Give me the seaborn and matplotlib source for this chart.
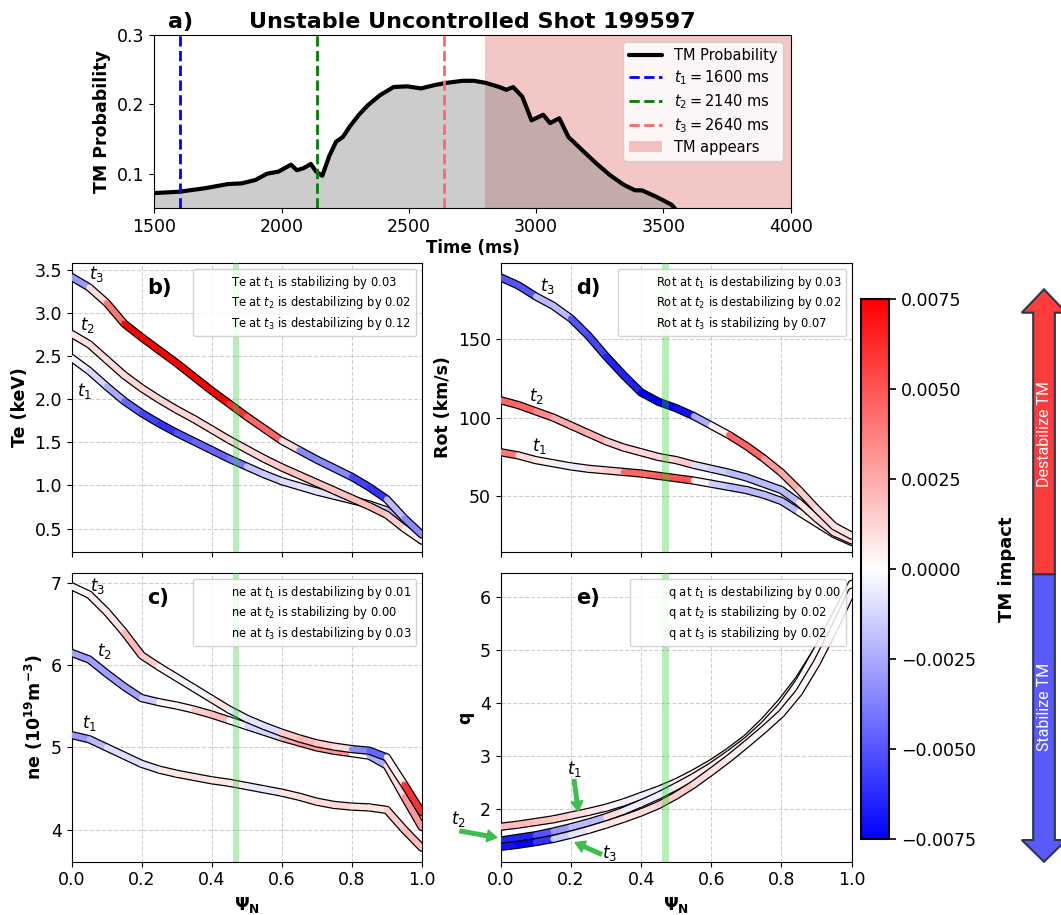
import numpy as np
import matplotlib
matplotlib.use('Agg')
import matplotlib.pyplot as plt
import seaborn as sns
from matplotlib.collections import LineCollection
from matplotlib.lines import Line2D
from matplotlib.patches import Patch, Polygon
from matplotlib.colors import Normalize
from matplotlib.cm import ScalarMappable

sns.set_style('ticks')
plt.rcParams['font.family'] = ['DejaVu Sans']
plt.rcParams['mathtext.fontset'] = 'dejavusans'
for key in ['text.color', 'axes.labelcolor', 'xtick.color', 'ytick.color', 'axes.edgecolor']:
    plt.rcParams[key] = 'black'

# ---- panel a: TM probability vs time
time_ms = [1500, 1599, 1699, 1789, 1843, 1898, 1943, 1988, 2037, 2060, 2087, 2115, 2136,
           2160, 2187, 2214, 2241, 2268, 2304, 2340, 2386, 2440, 2494, 2548, 2603, 2648,
           2711, 2756, 2802, 2856, 2883, 2910, 2946, 2982, 3028, 3055, 3091, 3127, 3181,
           3236, 3290, 3344, 3389, 3416, 3470, 3497, 3533, 3561]
tm_prob = [0.072, 0.074, 0.079, 0.085, 0.086, 0.091, 0.100, 0.103, 0.113, 0.105, 0.108, 0.114, 0.103,
           0.097, 0.125, 0.146, 0.153, 0.168, 0.185, 0.199, 0.213, 0.225, 0.226, 0.223, 0.228, 0.231,
           0.234, 0.234, 0.231, 0.225, 0.221, 0.225, 0.211, 0.177, 0.185, 0.173, 0.180, 0.153, 0.134,
           0.115, 0.098, 0.084, 0.076, 0.076, 0.067, 0.062, 0.055, 0.043]
t_marks = [1600, 2140, 2640]
t_names = ['$t_1 = 1600$ ms', '$t_2 = 2140$ ms', '$t_3 = 2640$ ms']
tm_onset = 2800

# ---- profiles on psi_N grid
psi = [0.0, 0.05, 0.1, 0.15, 0.2, 0.25, 0.3, 0.35, 0.4, 0.45, 0.5,
       0.55, 0.6, 0.65, 0.7, 0.75, 0.8, 0.85, 0.9, 0.95, 1.0]

te_t1 = [2.48, 2.33, 2.15, 1.98, 1.84, 1.72, 1.61, 1.51, 1.41, 1.31, 1.22, 1.13, 1.05, 0.99, 0.93, 0.88, 0.83, 0.78, 0.71, 0.56, 0.36]
te_t2 = [2.76, 2.64, 2.46, 2.28, 2.13, 2.00, 1.88, 1.77, 1.65, 1.53, 1.42, 1.31, 1.21, 1.12, 1.03, 0.94, 0.85, 0.76, 0.66, 0.50, 0.36]
te_t3 = [3.42, 3.30, 3.12, 2.88, 2.72, 2.57, 2.42, 2.26, 2.10, 1.95, 1.80, 1.66, 1.52, 1.41, 1.30, 1.20, 1.10, 0.98, 0.84, 0.62, 0.43]

ne_t1 = [5.15, 5.10, 5.00, 4.90, 4.80, 4.73, 4.68, 4.64, 4.60, 4.57, 4.53, 4.49, 4.45, 4.40, 4.34, 4.30, 4.28, 4.27, 4.24, 4.00, 3.78]
ne_t2 = [6.15, 6.07, 5.90, 5.74, 5.60, 5.55, 5.51, 5.46, 5.40, 5.33, 5.26, 5.19, 5.12, 5.06, 5.00, 4.96, 4.93, 4.90, 4.78, 4.40, 4.03]
ne_t3 = [6.96, 6.86, 6.65, 6.40, 6.12, 5.98, 5.85, 5.72, 5.59, 5.46, 5.35, 5.26, 5.18, 5.11, 5.05, 5.01, 4.98, 4.96, 4.88, 4.55, 4.21]

rot_t1 = [78, 76, 73, 71, 69, 67.5, 66.5, 65.5, 64.5, 63, 61.5, 60, 58, 56, 54, 51, 47, 40, 33, 26, 21]
rot_t2 = [111, 108, 104, 100, 95, 90, 85, 81, 78, 75, 73, 70, 67.5, 65, 62, 58, 54, 46, 36, 27, 22]
rot_t3 = [189, 184, 177, 171, 163, 152, 139, 127, 116, 110, 106, 101, 95, 89, 82, 74, 65, 54, 42, 31, 25]

q_t1 = [1.66, 1.70, 1.75, 1.80, 1.87, 1.94, 2.02, 2.12, 2.24, 2.36, 2.50, 2.67, 2.86, 3.08, 3.33, 3.65, 4.02, 4.45, 4.98, 5.55, 6.17]
q_t2 = [1.40, 1.45, 1.50, 1.57, 1.65, 1.74, 1.84, 1.96, 2.10, 2.25, 2.42, 2.60, 2.80, 3.03, 3.28, 3.58, 3.94, 4.40, 4.98, 5.60, 6.25]
q_t3 = [1.28, 1.32, 1.37, 1.43, 1.51, 1.60, 1.70, 1.81, 1.93, 2.07, 2.25, 2.46, 2.70, 2.95, 3.22, 3.50, 3.80, 4.20, 4.75, 5.40, 6.10]

# ---- TM impact along each profile (one value per segment)
te_imp_t1 = [-0.0005, -0.0012, -0.0025, -0.0045, -0.0055, -0.006, -0.005, -0.0045, -0.0045, -0.004,
             -0.0018, -0.0015, -0.001, -0.0008, -0.0008, -0.0008, -0.0008, -0.001, -0.002, -0.002]
te_imp_t2 = [0.0008, 0.001, 0.001, 0.0012, 0.0012, 0.0012, 0.0012, 0.0012, 0.0012, 0.001,
             0.0012, 0.0015, 0.0018, 0.0018, 0.0018, 0.0018, 0.002, 0.002, 0.0015, 0.0005]
te_imp_t3 = [-0.003, 0.001, 0.004, 0.0075, 0.0075, 0.0075, 0.0075, 0.0075, 0.0075, 0.006,
             0.0045, 0.0045, 0.001, -0.0035, -0.0035, -0.0035, -0.0055, -0.006, -0.002, -0.0035]

ne_imp_t1 = [-0.003, -0.002, -0.001, -0.001, -0.0008, 0.0006, 0.0008, 0.0008, 0.0008, 0.0006,
             -0.0006, -0.0006, 0.0008, 0.001, 0.001, 0.0012, 0.0008, 0.0008, 0.0015, 0.002]
ne_imp_t2 = [-0.0028, -0.0028, -0.0028, -0.0028, -0.0015, 0.0003, 0.0003, 0.0015, 0.002, 0.0,
             -0.0012, -0.0012, 0.0025, 0.003, 0.003, 0.003, 0.0, -0.0025, 0.001, 0.003]
ne_imp_t3 = [0.0003, 0.0005, 0.0008, 0.002, 0.0015, 0.0003, -0.0003, -0.0003, 0.0008, -0.0005,
             -0.0008, -0.001, 0.0015, 0.002, 0.0015, 0.001, -0.0035, -0.0045, 0.0003, 0.006]

rot_imp_t1 = [0.004, 0.001, 0.0005, -0.0005, -0.0005, 0.001, 0.0015, 0.0045, 0.0045, 0.005,
              0.005, 0.0003, -0.0015, -0.002, -0.002, -0.002, -0.002, 0.0003, 0.0003, 0.0003]
rot_imp_t2 = [0.0045, 0.0045, 0.0035, 0.0025, 0.0025, 0.0022, 0.0015, 0.0012, 0.0012, 0.0012,
              0.0015, -0.001, -0.0015, -0.002, -0.002, -0.002, -0.002, 0.0008, 0.001, 0.001]
rot_imp_t3 = [-0.005, -0.005, -0.002, -0.002, -0.005, -0.0055, -0.0065, -0.0065, -0.0075, -0.0075,
              -0.007, -0.0025, 0.0005, 0.0045, 0.0045, 0.003, 0.0025, 0.0015, 0.001, 0.0008]

q_imp_t1 = [0.002, 0.002, 0.0018, 0.0015, 0.001, 0.0008, -0.0003, -0.0005, -0.0005, -0.0005,
            0.0003, 0.0008, 0.001, 0.0005, 0.0002, 0.0002, 0.0002, 0.0002, 0.0002, 0.0002]
q_imp_t2 = [-0.0065, -0.0065, -0.005, -0.003, -0.002, -0.002, 0.001, -0.0005, -0.0005, -0.0005,
            0.0005, 0.0005, 0.0002, 0.0002, 0.0002, 0.0002, 0.0002, 0.0002, 0.0002, 0.0002]
q_imp_t3 = [-0.007, -0.0075, -0.006, -0.0015, -0.0008, 0.0005, 0.0008, 0.0008, 0.001, 0.0015,
            0.0015, 0.001, 0.0008, 0.0005, 0.0003, 0.0003, 0.0003, 0.0003, 0.0003, 0.0003]

te_legend = ['Te at $t_1$ is stabilizing by 0.03', 'Te at $t_2$ is destabilizing by 0.02',
             'Te at $t_3$ is destabilizing by 0.12']
ne_legend = ['ne at $t_1$ is destabilizing by 0.01', 'ne at $t_2$ is stabilizing by 0.00',
             'ne at $t_3$ is destabilizing by 0.03']
rot_legend = ['Rot at $t_1$ is destabilizing by 0.03', 'Rot at $t_2$ is destabilizing by 0.02',
              'Rot at $t_3$ is stabilizing by 0.07']
q_legend = ['q at $t_1$ is destabilizing by 0.00', 'q at $t_2$ is stabilizing by 0.02',
            'q at $t_3$ is stabilizing by 0.02']

cbar_ticks = [-0.0075, -0.005, -0.0025, 0.0, 0.0025, 0.005, 0.0075]
psi_mark = (0.46, 0.479)

cmap = plt.get_cmap('bwr')
norm = Normalize(vmin=-0.0075, vmax=0.0075)
TICK = 12.5
LAB = 12.5


def tube(ax, prof, impact, z):
    # black outline, then the coloured core on top
    sns.lineplot(x=psi, y=prof, ax=ax, color='black', linewidth=6.0,
                 estimator=None, sort=False, zorder=z)
    pts = np.column_stack([psi, prof])
    segs = np.stack([pts[:-1], pts[1:]], axis=1)
    lc = LineCollection(segs, cmap=cmap, norm=norm, linewidths=4.2,
                        capstyle='round', zorder=z + 0.5)
    lc.set_array(np.asarray(impact))
    ax.add_collection(lc)


def profile_panel(ax, curves, impacts, legend_txt, letter, ylabel, ylim, yticks, bottom):
    for k, (c, im) in enumerate(zip(curves, impacts)):
        tube(ax, c, im, 3 + k)
    ax.axvspan(psi_mark[0], psi_mark[1], color='limegreen', alpha=0.35, lw=0, zorder=10)
    ax.set_xlim(0, 1)
    ax.set_ylim(*ylim)
    ax.set_yticks(yticks)
    ax.set_xticks([0, 0.2, 0.4, 0.6, 0.8, 1.0])
    ax.grid(True, ls='--', lw=0.8, color='#bbbbbb', alpha=0.7)
    ax.set_axisbelow(True)
    ax.tick_params(labelsize=TICK)
    ax.set_ylabel(ylabel, fontsize=LAB, fontweight='bold')
    if bottom:
        ax.set_xlabel(r'$\mathbf{\Psi_N}$', fontsize=LAB)
    else:
        ax.set_xlabel('')
        ax.tick_params(labelbottom=False)
    hnd = [Line2D([], [], color='none') for _ in legend_txt]
    leg = ax.legend(hnd, legend_txt, loc='upper right', fontsize=8.3, handlelength=2.1,
                    labelspacing=0.3, framealpha=0.85)
    leg.set_zorder(20)
    ax.text(0.216, 0.915, letter, transform=ax.transAxes, fontsize=15,
            fontweight='bold', ha='left', va='center', zorder=21)


fig = plt.figure(figsize=(10.61, 9.15), dpi=100)

# ---- panel a
ax_a = fig.add_axes([0.1454, 0.7723, 0.5998, 0.1894])
ax_a.axvspan(tm_onset, 4000, color='tab:red', alpha=0.26, lw=0, zorder=1)
ax_a.fill_between(time_ms, tm_prob, 0, color='gray', alpha=0.4, lw=0, zorder=2)
sns.lineplot(x=time_ms, y=tm_prob, ax=ax_a, color='black', linewidth=3,
             estimator=None, sort=False, zorder=4)
line_cols = ['blue', 'green', (1.0, 0.4, 0.4)]
for tm, col in zip(t_marks, line_cols):
    ax_a.axvline(tm, color=col, ls='--', lw=2, zorder=5)
ax_a.set_xlim(1500, 4000)
ax_a.set_ylim(0.05, 0.3)
ax_a.set_xticks([1500, 2000, 2500, 3000, 3500, 4000])
ax_a.set_yticks([0.1, 0.2, 0.3])
ax_a.tick_params(labelsize=TICK)
ax_a.set_xlabel('Time (ms)', fontsize=12, fontweight='bold', labelpad=2)
ax_a.set_ylabel('TM Probability', fontsize=LAB, fontweight='bold')
ax_a.text(0.5, 1.077, 'Unstable Uncontrolled Shot 199597', transform=ax_a.transAxes,
          fontsize=16, fontweight='bold', ha='center', va='center')
ax_a.text(0.042, 1.077, 'a)', transform=ax_a.transAxes,
          fontsize=16, fontweight='bold', ha='center', va='center')
a_handles = [Line2D([], [], color='black', lw=3)]
a_handles += [Line2D([], [], color=c, ls='--', lw=2) for c in line_cols]
a_handles += [Patch(facecolor='tab:red', alpha=0.26, lw=0)]
a_labels = ['TM Probability'] + t_names + ['TM appears']
ax_a.legend(a_handles, a_labels, loc='upper right', fontsize=10.5, handlelength=2.3,
            labelspacing=0.35, framealpha=0.85)

# ---- profile panels
ax_b = fig.add_axes([0.0676, 0.3970, 0.3299, 0.3152])
ax_c = fig.add_axes([0.0676, 0.0583, 0.3299, 0.3152])
ax_d = fig.add_axes([0.4719, 0.3970, 0.3308, 0.3152])
ax_e = fig.add_axes([0.4719, 0.0583, 0.3308, 0.3152])

profile_panel(ax_b, [te_t1, te_t2, te_t3], [te_imp_t1, te_imp_t2, te_imp_t3], te_legend,
              'b)', 'Te (keV)', (0.23, 3.58), [0.5, 1.0, 1.5, 2.0, 2.5, 3.0, 3.5], False)
profile_panel(ax_c, [ne_t1, ne_t2, ne_t3], [ne_imp_t1, ne_imp_t2, ne_imp_t3], ne_legend,
              'c)', r'ne ($\mathbf{10^{19}m^{-3}}$)', (3.61, 7.12), [4, 5, 6, 7], True)
profile_panel(ax_d, [rot_t1, rot_t2, rot_t3], [rot_imp_t1, rot_imp_t2, rot_imp_t3], rot_legend,
              'd)', 'Rot (km/s)', (14.8, 198), [50, 100, 150], False)
profile_panel(ax_e, [q_t1, q_t2, q_t3], [q_imp_t1, q_imp_t2, q_imp_t3], q_legend,
              'e)', 'q', (1.0, 6.45), [2, 3, 4, 5, 6], True)

# time labels next to the profiles
lab_kw = dict(fontsize=12, ha='center', va='center', zorder=22)
ax_b.text(0.071, 3.46, '$t_3$', **lab_kw)
ax_b.text(0.045, 2.86, '$t_2$', **lab_kw)
ax_b.text(0.035, 2.10, '$t_1$', **lab_kw)
ax_c.text(0.074, 6.96, '$t_3$', **lab_kw)
ax_c.text(0.092, 6.17, '$t_2$', **lab_kw)
ax_c.text(0.052, 5.30, '$t_1$', **lab_kw)
ax_d.text(0.134, 183.7, '$t_3$', **lab_kw)
ax_d.text(0.101, 113.9, '$t_2$', **lab_kw)
ax_d.text(0.111, 82.0, '$t_1$', **lab_kw)

green = '#3cbf4e'
arr_kw = dict(facecolor=green, edgecolor=green, width=2.6, headwidth=8.5, headlength=7, shrink=0)
ax_e.text(0.209, 2.76, '$t_1$', **lab_kw)
ax_e.annotate('', xy=(0.221, 1.955), xytext=(0.209, 2.55), arrowprops=arr_kw,
              annotation_clip=False, zorder=22)
ax_e.text(-0.121, 1.80, '$t_2$', **lab_kw)
ax_e.annotate('', xy=(-0.011, 1.455), xytext=(-0.116, 1.58), arrowprops=arr_kw,
              annotation_clip=False, zorder=22)
ax_e.text(0.311, 1.17, '$t_3$', **lab_kw)
ax_e.annotate('', xy=(0.212, 1.36), xytext=(0.287, 1.14), arrowprops=arr_kw,
              annotation_clip=False, zorder=22)

# ---- colorbar
cax = fig.add_axes([0.8112, 0.0827, 0.0270, 0.5902])
sm = ScalarMappable(norm=norm, cmap=cmap)
cb = fig.colorbar(sm, cax=cax, ticks=cbar_ticks)
cb.outline.set_linewidth(1.5)
cb.ax.tick_params(labelsize=TICK, length=5, width=1.2)
cb.set_label('TM impact', fontsize=13, fontweight='bold', labelpad=16)

# ---- destabilize / stabilize arrow
ax_arr = fig.add_axes([0.9595, 0.0557, 0.0405, 0.6306])
ax_arr.set_axis_off()
ax_arr.set_xlim(0, 1)
ax_arr.set_ylim(0, 1)
cx, sh, hh = 0.605, 0.252, 0.518
mid, tip_t, hb_t, tip_b, hb_b = 0.502, 0.996, 0.9555, 0.004, 0.0416
up = [(cx - sh, mid), (cx - sh, hb_t), (cx - hh, hb_t), (cx, tip_t),
      (cx + hh, hb_t), (cx + sh, hb_t), (cx + sh, mid)]
dn = [(cx - sh, mid), (cx - sh, hb_b), (cx - hh, hb_b), (cx, tip_b),
      (cx + hh, hb_b), (cx + sh, hb_b), (cx + sh, mid)]
ax_arr.add_patch(Polygon(up, closed=True, facecolor='#ff3c3c', edgecolor='#26384a',
                         lw=1.5, clip_on=False))
ax_arr.add_patch(Polygon(dn, closed=True, facecolor='#5a5aff', edgecolor='#26384a',
                         lw=1.5, clip_on=False))
ax_arr.text(cx, 0.745, 'Destabilize TM', rotation=90, color='white', fontsize=11.5,
            family='Roboto', ha='center', va='center')
ax_arr.text(cx, 0.272, 'Stabilize TM', rotation=90, color='white', fontsize=11.5,
            family='Roboto', ha='center', va='center')

fig.savefig('out.png', dpi=100)
